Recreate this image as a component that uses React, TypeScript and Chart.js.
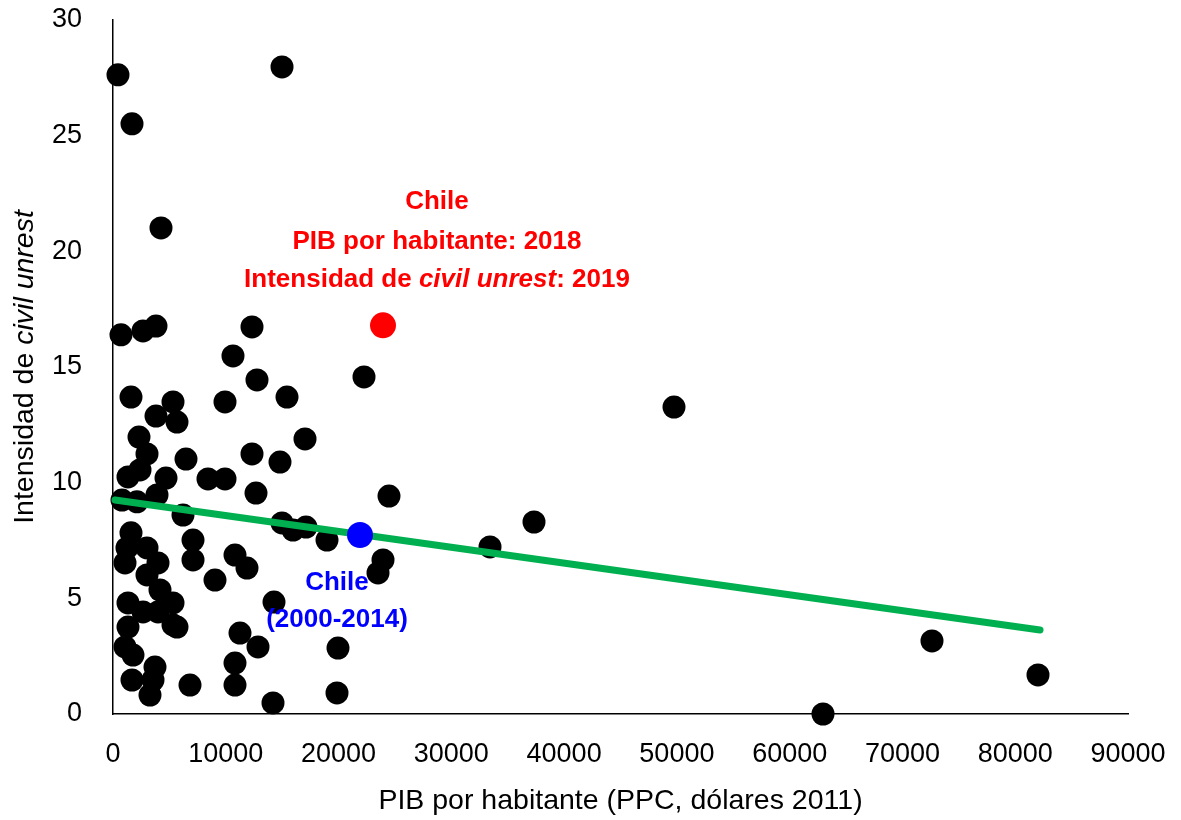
import React, { useEffect, useRef } from "react";
import { Chart, registerables } from "chart.js";
Chart.register(...registerables);

// GDP per capita (PPP, 2011 dollars) for each country observation
const gdpValues = [
  443, 14986, 1685, 4256, 709, 2660, 3813, 12325, 10640, 12768, 22256, 1596, 5320, 9931, 15429,
  3813, 5675, 2305, 17025, 3015, 12325, 6473, 14808, 2394, 1330, 4700, 8424, 9931, 12680, 3901,
  24473, 798, 2128, 6207, 37330, 14985, 17113, 15961, 18975, 33429, 49744, 1596, 7094, 1241, 3015,
  1064, 3990, 10818, 7094, 23941, 11882, 3015, 23498, 4167, 9044, 1330, 5320, 14276, 2660, 3990,
  5320, 5675, 1330, 11261, 1064, 12857, 1773, 19951, 72620, 3724, 10818, 1685, 3547, 6828, 10818,
  3281, 19862, 14187, 62956, 82020,
];
// Civil unrest intensity for each observation
const unrestValues = [
  27.63, 27.97, 25.51, 21.01, 16.39, 16.56, 16.77, 16.73, 15.48, 14.44, 14.57, 13.7, 13.49, 13.49, 13.7,
  12.88, 12.62, 11.97, 11.89, 11.24, 11.24, 11.02, 10.89, 10.55, 10.25, 10.2, 10.16, 10.16, 9.55, 9.47,
  9.42, 9.25, 9.17, 8.6, 8.3, 8.26, 8.08, 7.95, 7.52, 7.22, 13.27, 7.83, 7.52, 7.18, 7.18,
  6.53, 6.53, 6.87, 6.66, 6.66, 6.31, 6.01, 6.1, 5.36, 5.79, 4.8, 4.8, 4.84, 4.41, 4.41,
  3.85, 3.76, 3.76, 3.5, 2.9, 2.9, 2.55, 2.85, 3.16, 2.03, 2.2, 1.47, 1.47, 1.25, 1.25,
  0.82, 0.91, 0.48, 0.0, 1.69,
];
// Chile highlights
const chileRecentX = [23941];
const chileRecentY = [16.8];
const chileAvgX = [21902];
const chileAvgY = [7.74];
// Linear trend endpoints
const trendX = [177, 82200];
const trendY = [9.25, 3.63];

const xTicks = [0, 10000, 20000, 30000, 40000, 50000, 60000, 70000, 80000, 90000];
const yTicks = [0, 5, 10, 15, 20, 25, 30];

const xTitle = "PIB por habitante (PPC, dólares 2011)";
const yTitleParts = [
  { text: "Intensidad de ", italic: false },
  { text: "civil unrest", italic: true },
];
const redLabel1 = "Chile";
const redLabel2 = "PIB por habitante: 2018";
const redLabel3Parts = [
  { text: "Intensidad de ", italic: false },
  { text: "civil unrest", italic: true },
  { text: ": 2019", italic: false },
];
const blueLabel1 = "Chile";
const blueLabel2 = "(2000-2014)";

const FONT = "'Liberation Sans', Arial, sans-serif";

function drawParts(ctx: CanvasRenderingContext2D, parts: { text: string; italic: boolean }[], bold: boolean, size: number, cx: number, cy: number) {
  const fontFor = (it: boolean) => `${it ? "italic " : ""}${bold ? "bold " : ""}${size}px ${FONT}`;
  let total = 0;
  const widths = parts.map((p) => {
    ctx.font = fontFor(p.italic);
    const w = ctx.measureText(p.text).width;
    total += w;
    return w;
  });
  let x = cx - total / 2;
  ctx.textAlign = "left";
  ctx.textBaseline = "middle";
  parts.forEach((p, i) => {
    ctx.font = fontFor(p.italic);
    ctx.fillText(p.text, x, cy);
    x += widths[i];
  });
}

const annotationPlugin = {
  id: "annotations",
  afterDraw(chart: any) {
    const ctx: CanvasRenderingContext2D = chart.ctx;
    const xs = chart.scales.x;
    const ys = chart.scales.y;
    ctx.save();
    // Red annotation
    ctx.fillStyle = "#FF0000";
    const rx = xs.getPixelForValue(28729);
    ctx.textAlign = "center";
    ctx.textBaseline = "middle";
    ctx.font = `bold 26px ${FONT}`;
    ctx.fillText(redLabel1, rx, ys.getPixelForValue(22.14));
    ctx.fillText(redLabel2, rx, ys.getPixelForValue(20.41));
    drawParts(ctx, redLabel3Parts, true, 26, rx, ys.getPixelForValue(18.76));
    // Blue annotation
    ctx.fillStyle = "#0000FF";
    const bx = xs.getPixelForValue(19862);
    ctx.textAlign = "center";
    ctx.textBaseline = "middle";
    ctx.font = `bold 26px ${FONT}`;
    ctx.fillText(blueLabel1, bx, ys.getPixelForValue(5.66));
    ctx.fillText(blueLabel2, bx, ys.getPixelForValue(4.06));
    // Y title
    ctx.fillStyle = "#000";
    const ca = chart.chartArea;
    ctx.translate(25, (ca.top + ca.bottom) / 2);
    ctx.rotate(-Math.PI / 2);
    drawParts(ctx, yTitleParts, false, 28.5, 0, 0);
    ctx.restore();
  },
};

export default function App() {
  const ref = useRef<HTMLCanvasElement>(null);
  useEffect(() => {
    if (!ref.current) return;
    const points = gdpValues.map((x, i) => ({ x, y: unrestValues[i] }));
    const chart = new Chart(ref.current, {
      type: "scatter",
      data: {
        datasets: [
          {
            label: "Países",
            data: points,
            backgroundColor: "#000000",
            borderWidth: 0,
            pointRadius: 11.5,
            order: 3,
            clip: false,
          } as any,
          {
            label: "Tendencia",
            data: trendX.map((x, i) => ({ x, y: trendY[i] })),
            showLine: true,
            borderColor: "#00B050",
            borderWidth: 7,
            borderCapStyle: "round",
            pointRadius: 0,
            order: 2,
            clip: false,
          } as any,
          {
            label: "Chile 2000-2014",
            data: chileAvgX.map((x, i) => ({ x, y: chileAvgY[i] })),
            backgroundColor: "#0000FF",
            borderWidth: 0,
            pointRadius: 13,
            order: 1,
            clip: false,
          } as any,
          {
            label: "Chile 2019",
            data: chileRecentX.map((x, i) => ({ x, y: chileRecentY[i] })),
            backgroundColor: "#FF0000",
            borderWidth: 0,
            pointRadius: 13,
            order: 1,
            clip: false,
          } as any,
        ],
      },
      options: {
        animation: false,
        responsive: true,
        maintainAspectRatio: false,
        layout: { padding: { top: 20, right: 53, left: 0, bottom: 0 } },
        plugins: { legend: { display: false }, tooltip: { enabled: false } },
        scales: {
          x: {
            type: "linear",
            min: 0,
            max: 90000,
            afterBuildTicks: (s: any) => {
              s.ticks = xTicks.map((v) => ({ value: v }));
            },
            afterFit: (s: any) => {
              s.height = 106;
              s.paddingLeft = 0;
              s.paddingRight = 0;
            },
            grid: { display: false, drawTicks: false },
            border: { display: true, color: "#000", width: 1.5 },
            ticks: { color: "#000", font: { family: FONT, size: 27 }, padding: 24, maxRotation: 0, autoSkip: false, callback: (v: any) => String(v) },
            title: { display: true, text: xTitle, color: "#000", font: { family: FONT, size: 28.5 }, padding: { top: 4, bottom: 2 } },
          },
          y: {
            type: "linear",
            min: 0,
            max: 30,
            afterBuildTicks: (s: any) => {
              s.ticks = yTicks.map((v) => ({ value: v }));
            },
            afterFit: (s: any) => {
              s.width = 113;
              s.paddingTop = 0;
              s.paddingBottom = 0;
            },
            grid: { display: false, drawTicks: false },
            border: { display: true, color: "#000", width: 1.5 },
            ticks: { color: "#000", font: { family: FONT, size: 27 }, padding: 31, autoSkip: false },
          },
        },
      },
      plugins: [annotationPlugin],
    });
    return () => chart.destroy();
  }, []);
  return (
    <div style={{ position: "fixed", left: 0, top: 0, width: 1181, height: 820, background: "#fff" }}>
      <canvas ref={ref} />
    </div>
  );
}
